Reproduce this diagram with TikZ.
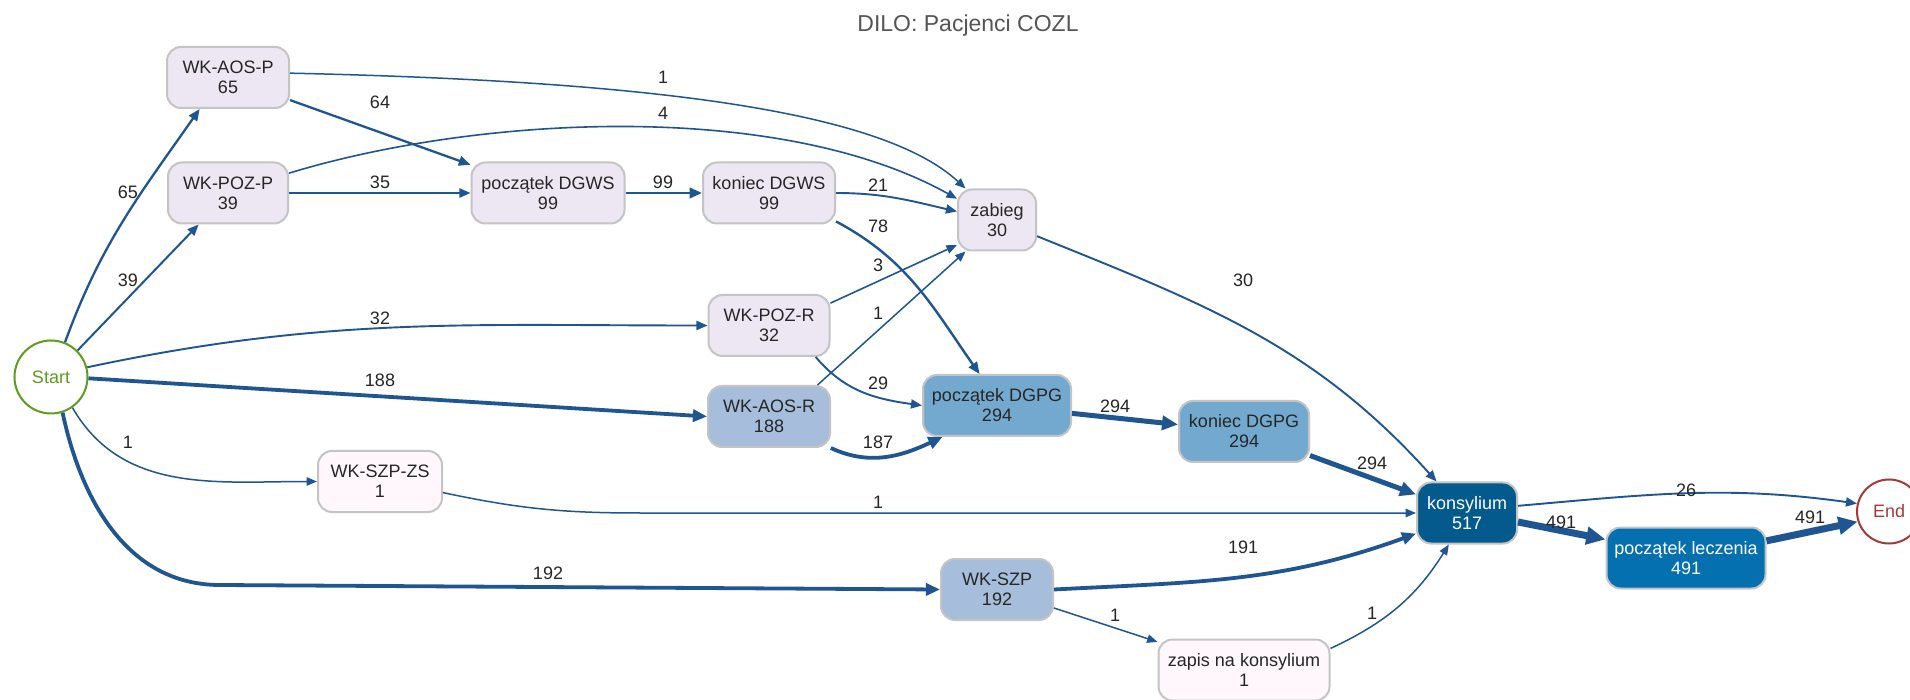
\documentclass[tikz,border=0pt]{standalone}
\usepackage{fontspec}
\setmainfont{Liberation Sans}
\usetikzlibrary{arrows.meta}

\definecolor{flowblue}{HTML}{1F5591}
\definecolor{boxline}{HTML}{C4C4C4}
\definecolor{lavender}{HTML}{ECE7F2}
\definecolor{blush}{HTML}{FFF7FB}
\definecolor{paleblue}{HTML}{A6BDDB}
\definecolor{midblue}{HTML}{74A9CF}
\definecolor{deepblue}{HTML}{0570B0}
\definecolor{navyblue}{HTML}{045A8D}
\definecolor{startgreen}{HTML}{5E9C1E}
\definecolor{endred}{HTML}{A33A3A}
\definecolor{titlegray}{HTML}{555555}

\newcommand{\boxfont}{\fontsize{18}{20}\selectfont}

\begin{document}
\begin{tikzpicture}[x=1pt,y=1pt,
  act/.style={draw=boxline,line width=2pt,rounded corners=14pt,minimum height=61pt,
    inner xsep=6pt,align=center,font=\boxfont,text=black!85},
  term/.style={circle,line width=2pt,font=\boxfont},
  flow/.style={draw=flowblue,-{Triangle[length=8pt 1.6,width=6pt 1.6]}},
  cnt/.style={font=\boxfont,text=black!85,inner sep=0pt}]
\path[fill=white] (0,0) rectangle (1910,699);
\useasboundingbox (0,0) rectangle (1910,699);

% title
\node[font=\fontsize{23}{26}\selectfont,text=titlegray] (title) at (968,673) {DILO: Pacjenci COZL};

% start and end
\node[term,draw=startgreen,text=startgreen,minimum size=73pt] (start) at (51,322) {Start};
\node[term,draw=endred,text=endred,minimum size=64pt] (finish) at (1889,187.5) {End};

% activities
\node[act,fill=lavender,minimum width=122pt] (aosp) at (228,621.5) {WK-AOS-P\\65};
\node[act,fill=lavender,minimum width=120pt] (pozp) at (228,506) {WK-POZ-P\\39};
\node[act,fill=lavender,minimum width=153pt] (pdgws) at (548,506) {początek DGWS\\99};
\node[act,fill=lavender,minimum width=132pt] (kdgws) at (769,506) {koniec DGWS\\99};
\node[act,fill=lavender,minimum width=78pt] (zabieg) at (997,479) {zabieg\\30};
\node[act,fill=lavender,minimum width=121pt] (pozr) at (769,373.5) {WK-POZ-R\\32};
\node[act,fill=paleblue,minimum width=122pt] (aosr) at (769,282.5) {WK-AOS-R\\188};
\node[act,fill=midblue,minimum width=148pt] (pdgpg) at (997,293.5) {początek DGPG\\294};
\node[act,fill=midblue,minimum width=130pt] (kdgpg) at (1244,267.5) {koniec DGPG\\294};
\node[act,fill=blush,minimum width=124pt] (szpzs) at (380,217.5) {WK-SZP-ZS\\1};
\node[act,fill=paleblue,minimum width=112pt] (szp) at (997,109.5) {WK-SZP\\192};
\node[act,fill=blush,minimum width=171pt] (zapis) at (1244,29) {zapis na konsylium\\1};
\node[act,fill=navyblue,text=white,minimum width=100pt] (kons) at (1467,186) {konsylium\\517};
\node[act,fill=deepblue,text=white,minimum width=159pt] (plecz) at (1686,141) {początek leczenia\\491};

% flows out of start
\draw[flow,line width=2.3pt] (start.68) to[out=70,in=-125] (aosp.-132);
\draw[flow,line width=2pt] (start.45) -- (pozp.-133);
\draw[flow,line width=1.9pt] (start.15) to[out=12,in=180] (pozr.west);
\draw[flow,line width=3.8pt] (start.-2) -- (aosr.west);
\draw[flow,line width=1.5pt] (start.-55) to[out=-60,in=180] (szpzs.west);
\draw[flow,line width=3.8pt] (start.-72) to[out=-78,in=180] (220,114) -- (szp.west);

% upper part
\draw[flow,line width=1.5pt] (aosp.4) .. controls (640,618) and (880,590) .. (zabieg.135);
\draw[flow,line width=2.3pt] (aosp.-20) -- (pdgws.160);
\draw[flow,line width=1.6pt] (pozp.18) .. controls (480,584) and (780,599) .. (zabieg.152);
\draw[flow,line width=2pt] (pozp.east) -- (pdgws.west);
\draw[flow,line width=2.7pt] (pdgws.east) -- (kdgws.west);
\draw[flow,line width=1.9pt] (kdgws.east) to[out=0,in=167] (zabieg.168);
\draw[flow,line width=2.4pt] (kdgws.-23) to[out=-28,in=125] (pdgpg.119);
\draw[flow,line width=1.6pt] (pozr.20) -- (zabieg.-148);
\draw[flow,line width=1.5pt] (aosr.33) -- (zabieg.-135);
\draw[flow,line width=1.9pt] (pozr.-34) to[out=-50,in=172] (pdgpg.west);
\draw[flow,line width=3.8pt] (aosr.-27) to[out=-25,in=-155] (pdgpg.-150);
\draw[flow,line width=5pt] (pdgpg.-6) -- (kdgpg.174);

% into konsylium
\draw[flow,line width=1.9pt] (zabieg.-22) to[out=-22,in=132] (kons.134);
\draw[flow,line width=5pt] (kdgpg.-20) -- (kons.160);
\draw[flow,line width=1.5pt] (szpzs.-10) to[out=-12,in=180] (640,186) -- (kons.west);
\draw[flow,line width=3.8pt] (szp.east) to[out=3,in=-160] (kons.-158);
\draw[flow,line width=1.5pt] (szp.-18) -- (zapis.162);
\draw[flow,line width=1.5pt] (zapis.14) to[out=25,in=-122] (kons.-120);

% to the end
\draw[flow,line width=1.9pt] (kons.8) to[out=5,in=172] (finish.166);
\draw[flow,line width=7pt] (kons.-10) -- (plecz.167);
\draw[flow,line width=7pt] (plecz.12) -- (finish.-162);

% counts
\node[cnt] (c65) at (128,507) {65};
\node[cnt] (c39) at (128,419) {39};
\node[cnt] (c32) at (380,381) {32};
\node[cnt] (c188) at (380,319) {188};
\node[cnt] (c1a) at (128,257) {1};
\node[cnt] (c192) at (548,126) {192};
\node[cnt] (c64) at (380,597) {64};
\node[cnt] (c35) at (380,517) {35};
\node[cnt] (c1b) at (663,622) {1};
\node[cnt] (c4) at (663,586) {4};
\node[cnt] (c99) at (663,517) {99};
\node[cnt] (c21) at (878,514) {21};
\node[cnt] (c78) at (878,473) {78};
\node[cnt] (c3) at (878,434) {3};
\node[cnt] (c1c) at (878,386) {1};
\node[cnt] (c29) at (878,316) {29};
\node[cnt] (c187) at (878,257) {187};
\node[cnt] (c294a) at (1115,293) {294};
\node[cnt] (c1d) at (878,197) {1};
\node[cnt] (c191) at (1243,152) {191};
\node[cnt] (c1e) at (1115,84) {1};
\node[cnt] (c30) at (1243,419) {30};
\node[cnt] (c294b) at (1372,236) {294};
\node[cnt] (c1f) at (1372,86) {1};
\node[cnt] (c26) at (1686,209) {26};
\node[cnt] (c491a) at (1561,177) {491};
\node[cnt] (c491b) at (1810,182) {491};
\end{tikzpicture}
\end{document}
